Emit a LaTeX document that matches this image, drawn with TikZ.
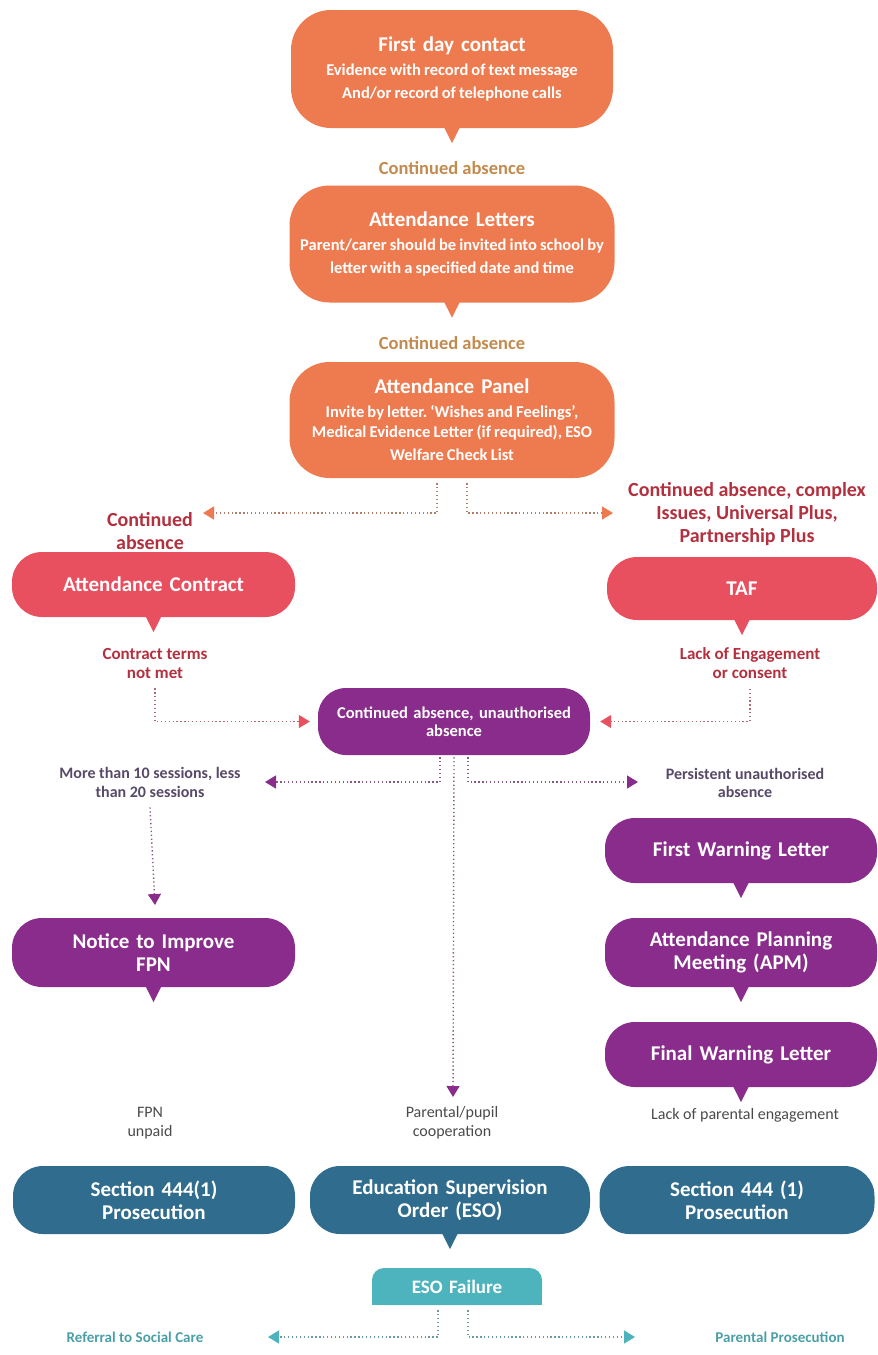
\documentclass[tikz,border=0pt]{standalone}
\usepackage{fontspec}
\setmainfont{Carlito}
\frenchspacing
\definecolor{stageorange}{HTML}{EE7B4F}
\definecolor{labeltan}{HTML}{C38A4E}
\definecolor{contractred}{HTML}{E9505F}
\definecolor{labelred}{HTML}{B3303E}
\definecolor{absencepurple}{HTML}{8A2C8B}
\definecolor{labelpurple}{HTML}{574968}
\definecolor{courtblue}{HTML}{2F6C8D}
\definecolor{failteal}{HTML}{4DB4BE}
\definecolor{labelteal}{HTML}{4A9FA6}
\definecolor{labelgray}{HTML}{4A4A4A}
\usetikzlibrary{arrows.meta, positioning, backgrounds}
\newcommand{\subline}{\par\vspace{4pt}\fontsize{16.5}{20}\selectfont\spaceskip=0.19em\relax}

\begin{document}
\begin{tikzpicture}[x=1pt, y=-1pt,
  stage/.style={rectangle, rounded corners=28pt, text=white, align=center, inner xsep=0pt, inner ysep=2pt, font=\bfseries\fontsize{21}{23}\selectfont},
  note/.style={align=center, inner sep=2pt},
  link/.style={dash pattern=on 1.3pt off 2.6pt, line width=1.4pt},
  orlink/.style={link, draw=stageorange!45!gray, -{Triangle[length=11pt, width=13pt, color=stageorange]}},
  redlink/.style={link, draw=contractred!45!gray, -{Triangle[length=11pt, width=13pt, color=contractred]}},
  purplink/.style={link, draw=absencepurple!45!gray, -{Triangle[length=11pt, width=13pt, color=absencepurple]}},
  teallink/.style={link, draw=failteal!55!gray, -{Triangle[length=11pt, width=13pt, color=failteal]}}]
\useasboundingbox (0,0) rectangle (878,1355);
% orange stages
\node[stage, rounded corners=40pt, fill=stageorange, text width=322pt, minimum height=118pt] (first) at (452,69) {First day contact\subline Evidence with record of text message\\ And/or record of telephone calls};
\node[note, text=labeltan, font=\bfseries\fontsize{18.5}{22}\selectfont] (cafirst) at (452,168) {Continued absence};
\node[stage, rounded corners=40pt, fill=stageorange, text width=325pt, minimum height=117pt] (letters) at (452,244) {Attendance Letters\subline Parent/carer should be invited into school by\\ letter with a specified date and time};
\node[note, text=labeltan, font=\bfseries\fontsize{18.5}{22}\selectfont] (casecond) at (452,343) {Continued absence};
\node[stage, rounded corners=40pt, fill=stageorange, text width=325pt, minimum height=116pt] (panel) at (452,420) {Attendance Panel\subline Invite by letter. `Wishes and Feelings',\\ Medical Evidence Letter (if required), ESO\\ Welfare Check List};
% red stages
\node[note, text=labelred, font=\bfseries\fontsize{20}{23}\selectfont] (caleft) at (150,531) {Continued\\ absence};
\node[note, text=labelred, font=\bfseries\fontsize{20}{23}\selectfont] (caright) at (747,514) {Continued absence, complex\\ Issues, Universal Plus,\\ Partnership Plus};
\node[stage, rounded corners=30pt, fill=contractred, text width=283pt, minimum height=65pt] (contract) at (153.5,584.5) {Attendance Contract};
\node[stage, rounded corners=30pt, fill=contractred, text width=270pt, minimum height=63pt] (taf) at (742,588.5) {TAF};
\node[note, text=labelred, font=\bfseries\fontsize{17}{19}\selectfont] (terms) at (155,663) {Contract terms\\ not met};
\node[note, text=labelred, font=\bfseries\fontsize{17}{19}\selectfont] (lackeng) at (750,663) {Lack of Engagement\\ or consent};
% purple stages
\node[stage, fill=absencepurple, text width=272pt, minimum height=67pt, font=\bfseries\fontsize{16.5}{18}\selectfont] (unauth) at (454,721.5) {Continued absence, unauthorised\\ absence};
\node[note, text=labelpurple, font=\bfseries\fontsize{16}{19}\selectfont] (moreten) at (150,782) {More than 10 sessions, less\\ than 20 sessions};
\node[note, text=labelpurple, font=\bfseries\fontsize{16}{18}\selectfont] (persist) at (745,783) {Persistent unauthorised\\ absence};
\node[stage, rounded corners=30pt, fill=absencepurple, text width=283pt, minimum height=69pt] (notice) at (153.5,952.5) {Notice to Improve\\ FPN};
\node[stage, rounded corners=30pt, fill=absencepurple, text width=272pt, minimum height=65pt] (warnfirst) at (741,850.5) {First Warning Letter};
\node[stage, rounded corners=30pt, fill=absencepurple, text width=272pt, minimum height=69pt] (apm) at (741,952.5) {Attendance Planning\\ Meeting (APM)};
\node[stage, rounded corners=30pt, fill=absencepurple, text width=272pt, minimum height=65pt] (warnfinal) at (741,1054.5) {Final Warning Letter};
% court stages
\node[note, text=labelgray, font=\fontsize{16}{19}\selectfont] (fpnunpaid) at (150,1123) {FPN\\ unpaid};
\node[note, text=labelgray, font=\fontsize{16}{19}\selectfont] (parcoop) at (452,1123) {Parental/pupil\\ cooperation};
\node[note, text=labelgray, font=\fontsize{16}{19}\selectfont] (lackpar) at (745,1115) {Lack of parental engagement};
\node[stage, rounded corners=30pt, fill=courtblue, text width=282pt, minimum height=68pt] (secleft) at (154,1200) {Section 444(1)\\ Prosecution};
\node[stage, rounded corners=30pt, fill=courtblue, text width=280pt, minimum height=68pt] (eso) at (450,1200) {Education Supervision\\ Order (ESO)};
\node[stage, rounded corners=30pt, fill=courtblue, text width=275pt, minimum height=68pt] (secright) at (737,1200) {Section 444 (1)\\ Prosecution};
\node[stage, rounded corners=12pt, fill=failteal, text width=170pt, minimum height=37pt, font=\bfseries\fontsize{19}{21}\selectfont] (esofail) at (457,1286.5) {ESO Failure};
\node[note, text=labelteal, font=\bfseries\fontsize{15}{18}\selectfont] (referral) at (135,1337) {Referral to Social Care};
\node[note, text=labelteal, font=\bfseries\fontsize{15}{18}\selectfont] (parpros) at (780,1337) {Parental Prosecution};
\begin{pgfonlayer}{background}
\fill[failteal] (esofail.west) rectangle (esofail.south east);
\end{pgfonlayer}
% speech bubble tails
\foreach \b/\c in {first/stageorange, letters/stageorange, contract/contractred, taf/contractred, notice/absencepurple, warnfirst/absencepurple, apm/absencepurple, warnfinal/absencepurple, eso/courtblue}
  \fill[\c] ([xshift=-8pt,yshift=1pt]\b.south) -- ([xshift=8pt,yshift=1pt]\b.south) -- ([yshift=-15pt]\b.south) -- cycle;
% arrow ends
\coordinate (caleftin) at (203,513);
\coordinate (carightin) at (613,513);
\coordinate (moretenin) at (265,782);
\coordinate (persistin) at (638,782);
\coordinate (noticein) at (155,905);
\coordinate (parcoopin) at (453,1097);
\coordinate (referralin) at (268,1337);
\coordinate (parprosin) at (635,1337);
\draw[orlink] ([xshift=-15pt,yshift=-5pt]panel.south) |- (caleftin);
\draw[orlink] ([xshift=15pt,yshift=-5pt]panel.south) |- (carightin);
\draw[redlink] ([yshift=-8pt]terms.south) |- ([xshift=-8pt]unauth.west);
\draw[redlink] ([yshift=-8pt]lackeng.south) |- ([xshift=10pt]unauth.east);
\draw[purplink] ([xshift=-14pt,yshift=-2pt]unauth.south) |- (moretenin);
\draw[purplink] ([xshift=14pt,yshift=-2pt]unauth.south) |- (persistin);
\draw[purplink] ([yshift=-2pt]unauth.south) -- (parcoopin);
\draw[purplink] ([yshift=-8pt]moreten.south) -- (noticein);
\draw[teallink] ([xshift=-19pt,yshift=-5pt]esofail.south) |- (referralin);
\draw[teallink] ([xshift=11pt,yshift=-5pt]esofail.south) |- (parprosin);
\end{tikzpicture}
\end{document}
